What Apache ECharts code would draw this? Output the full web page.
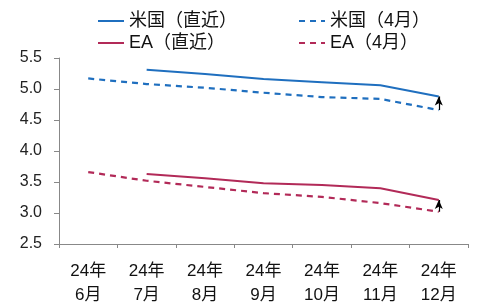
<!DOCTYPE html>
<html>
<head>
<meta charset="utf-8">
<script src="https://cdn.jsdelivr.net/npm/echarts@6/dist/echarts.min.js"></script>
<style>html,body{margin:0;padding:0;background:#fff}#c{width:479px;height:307px}</style>
</head>
<body>
<div id="c"></div>
<script>
var categories = ['24年\n6月','24年\n7月','24年\n8月','24年\n9月','24年\n10月','24年\n11月','24年\n12月'];
var usRecent = [null, 5.31, 5.24, 5.16, 5.11, 5.06, 4.88];
var usApril  = [5.17, 5.08, 5.02, 4.94, 4.87, 4.84, 4.66];
var eaRecent = [null, 3.63, 3.56, 3.48, 3.45, 3.40, 3.21];
var eaApril  = [3.66, 3.52, 3.42, 3.32, 3.26, 3.16, 3.02];
var names = ['米国（直近）','米国（4月）','EA（直近）','EA（4月）'];
var yMin = 2.5, yMax = 5.5, yStep = 0.5;

var BLUE = '#1f6fbf', RED = '#b22a58';
var FONT = '"Liberation Sans", "Noto Sans CJK JP", sans-serif';
var chart = echarts.init(document.getElementById('c'), null, {renderer:'canvas'});

function arrow(from, to){
  return {
    silent: true, symbol: ['none','arrow'], symbolSize: [6,9],
    label: {show:false},
    lineStyle: {color:'#000', width:1.2, type:'solid'},
    data: [[{coord:[categories.length-1, from]}, {coord:[categories.length-1, to]}]]
  };
}

var legendText = {fontSize:18, color:'#111', fontFamily: FONT};
var legendBase = {top: 12, orient:'vertical', itemGap:4, itemWidth:26, itemHeight:12,
  itemStyle:{opacity:0}, textStyle: legendText, padding:0};
chart.setOption({
  animation: false,
  textStyle: {fontFamily: FONT},
  grid: {left:59, right:11, top:58, bottom:63},
  legend: [
    Object.assign({left: 97, data:[names[0], names[2]]}, legendBase),
    Object.assign({left: 298, data:[names[1], names[3]]}, legendBase)
  ],
  xAxis: {
    type:'category', data: categories, boundaryGap: true,
    axisLine:{lineStyle:{color:'#888', width:1}},
    axisTick:{show:true, length:4, alignWithLabel:false, lineStyle:{color:'#888'}},
    axisLabel:{interval:0, fontSize:17, color:'#111', lineHeight:24, margin:15, fontFamily: FONT}
  },
  yAxis: {
    type:'value', min:yMin, max:yMax, interval:yStep,
    axisLine:{show:true, lineStyle:{color:'#888', width:1}},
    axisTick:{show:true, length:5, lineStyle:{color:'#888'}},
    splitLine:{show:false},
    axisLabel:{fontSize:16, color:'#222', margin:17, fontFamily: FONT,
      formatter: function(v){return v.toFixed(1);}}
  },
  series: [
    {name:names[0], type:'line', data:usRecent, symbol:'none', connectNulls:false,
     lineStyle:{color:BLUE, width:2}, itemStyle:{color:BLUE}},
    {name:names[1], type:'line', data:usApril, symbol:'none',
     lineStyle:{color:BLUE, width:2.2, type:[6,5]}, itemStyle:{color:BLUE},
     markLine: arrow(usApril[6], usRecent[6])},
    {name:names[2], type:'line', data:eaRecent, symbol:'none',
     lineStyle:{color:RED, width:2}, itemStyle:{color:RED}},
    {name:names[3], type:'line', data:eaApril, symbol:'none',
     lineStyle:{color:RED, width:2.2, type:[6,5]}, itemStyle:{color:RED},
     markLine: arrow(eaApril[6], eaRecent[6])}
  ]
});
</script>
</body>
</html>
